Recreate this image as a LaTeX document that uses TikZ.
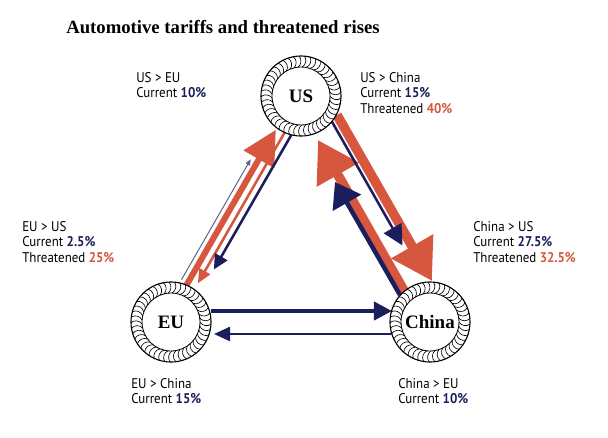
\documentclass[tikz,border=0pt]{standalone}
\usepackage{fontspec}
\setmainfont{Liberation Serif}
\newfontfamily\labelfont[FakeStretch=0.92]{PT Sans}
\usetikzlibrary{arrows.meta,calc}

\definecolor{navy}{RGB}{27,30,92}
\definecolor{rust}{RGB}{214,86,62}

\newcommand{\cur}[1]{\textcolor{navy}{\bfseries #1}}
\newcommand{\thr}[1]{\textcolor{rust}{\bfseries #1}}

\begin{document}
\begin{tikzpicture}[x=0.025cm,y=-0.025cm,
    country/.style={circle,draw,line width=0.8pt,fill=white,minimum size=2cm,inner sep=0pt,
      font=\fontsize{13.5}{15}\selectfont\bfseries},
    lbl/.style={anchor=north west,align=left,inner sep=0pt,
      font=\labelfont\fontsize{10}{11}\selectfont},
    bigrust/.style={rust,line width=6.8pt,-{Triangle[length=1cm,width=1.15cm]}},
    midrust/.style={rust,line width=4.3pt,-{Triangle[length=0.85cm,width=0.85cm]}},
    thinrust/.style={rust,line width=1.8pt,-{Triangle[length=0.35cm,width=0.3cm]}},
    bignavy/.style={navy,line width=3.2pt,-{Triangle[length=0.6cm,width=0.8cm]}},
    midnavy/.style={navy,line width=2.8pt,-{Triangle[length=0.45cm,width=0.45cm]}},
    thinnavy/.style={navy,line width=1.8pt,-{Triangle[length=0.45cm,width=0.45cm]}},
    hairnavy/.style={navy!70,line width=0.7pt,-{Triangle[length=0.15cm,width=0.12cm]}}]

    \useasboundingbox (0,0) rectangle (608,437);

    % Title
    \node[anchor=base west,inner sep=0pt,font=\fontsize{13.3}{16}\selectfont\bfseries] (title) at (66,33)
        {Automotive tariffs and threatened rises};

    % Arrow ends, US -- China
    \coordinate (ucThrS) at (337,115);   \coordinate (ucThrE) at (432,281);
    \coordinate (ucCurS) at (331,120);   \coordinate (ucCurE) at (402.5,245.5);
    \coordinate (cuThrS) at (404.5,291.5); \coordinate (cuThrE) at (318,140);
    \coordinate (cuCurS) at (400,295);   \coordinate (cuCurE) at (335,182);

    % Arrow ends, EU -- US
    \coordinate (euCurS) at (181.5,279.6); \coordinate (euCurE) at (250.7,159.3);
    \coordinate (euThrS) at (186.6,284.9); \coordinate (euThrE) at (275.8,129.8);
    \coordinate (ueThrS) at (285.1,131.7); \coordinate (ueThrE) at (197.9,283.3);
    \coordinate (ueCurS) at (291.6,134.4); \coordinate (ueCurE) at (213.9,269.5);

    % Arrow ends, EU -- China
    \coordinate (ecCurS) at (211,311);   \coordinate (ecCurE) at (392,311);
    \coordinate (ceCurS) at (391,334);   \coordinate (ceCurE) at (214,334);

    % US -- China arrows
    \draw[bigrust] (ucThrS) -- (ucThrE);
    \draw[bigrust] (cuThrS) -- (cuThrE);
    \draw[thinnavy,-{Triangle[length=0.5cm,width=0.5cm]}] (ucCurS) -- (ucCurE);
    \draw[bignavy] (cuCurS) -- (cuCurE);

    % EU -- US arrows
    \draw[hairnavy] (euCurS) -- (euCurE);
    \draw[midrust] (euThrS) -- (euThrE);
    \draw[thinrust] (ueThrS) -- (ueThrE);
    \draw[thinnavy,-{Triangle[length=0.37cm,width=0.35cm]}] (ueCurS) -- (ueCurE);

    % EU -- China arrows
    \draw[midnavy] (ecCurS) -- (ecCurE);
    \draw[thinnavy,-{Triangle[length=0.4cm,width=0.35cm]}] (ceCurS) -- (ceCurE);

    % Countries
    \node[country] (us) at (301,96) {US};
    \node[country] (eu) at (171,322) {EU};
    \node[country] (china) at (430,322) {China};

    % Rope rings
    \foreach \c in {us,eu,china}{
        \draw[line width=0.6pt] (\c) circle (29);
        \foreach \a in {0,8,...,352}
            \draw[line width=0.45pt] ($(\c)+(\a:29)$) to[bend right=50] ($(\c)+(\a+3:40)$);
    }

    % Labels
    \node[lbl] (usEu) at (136,72) {US > EU\\Current \cur{10\%}};
    \node[lbl] (usChina) at (360,72) {US > China\\Current \cur{15\%}\\Threatened \thr{40\%}};
    \node[lbl] (euUs) at (22,221) {EU > US\\Current \cur{2.5\%}\\Threatened \thr{25\%}};
    \node[lbl] (chinaUs) at (473,221) {China > US\\Current \cur{27.5\%}\\Threatened \thr{32.5\%}};
    \node[lbl] (euChina) at (131,378) {EU > China\\Current \cur{15\%}};
    \node[lbl] (chinaEu) at (398,378) {China > EU\\Current \cur{10\%}};

\end{tikzpicture}
\end{document}
